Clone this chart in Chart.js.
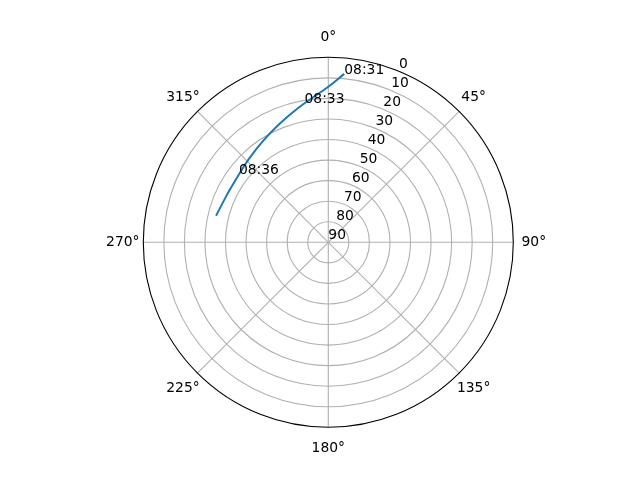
<!DOCTYPE html>
<html>
<head>
<meta charset="utf-8">
<script src="https://cdn.jsdelivr.net/npm/chart.js@4.4.1/dist/chart.umd.min.js"></script>
<style>
  html, body { margin: 0; padding: 0; background: #ffffff; }
  canvas { display: block; }
</style>
</head>
<body>
<canvas id="c" width="640" height="480"></canvas>
<script>
// Satellite track (azimuth clockwise from north, elevation in degrees)
const azimuthDeg   = [5.4, 0.0, 350.3, 344.8, 336.9, 327.1, 316.4, 307.2, 303.0, 294.2, 283.3];
const elevationDeg = [7.7, 14.3, 21.4, 24.4, 28.0, 31.4, 34.0, 35.4, 35.7, 35.5, 33.9];
// Time annotations (index into the track)
const labelIndex = [0, 2, 7];
const labelTimes = ['08:31', '08:33', '08:36'];
// Axis ticks
const thetaTicks = [0, 45, 90, 135, 180, 225, 270, 315];
const thetaTickLabels = ['0°', '45°', '90°', '135°', '180°', '225°', '270°', '315°'];
const rTicks = [0, 10, 20, 30, 40, 50, 60, 70, 80, 90];
const rTickLabels = ['0', '10', '20', '30', '40', '50', '60', '70', '80', '90'];
const rLabelAngle = 22.5;

const FONT = '13.89px "DejaVu Sans"';
const rad = d => d * Math.PI / 180;
// polar (elevation, azimuth) -> data units of the cartesian scales
function toXY(el, az) {
  const r = 90 - el;
  return { x: r * Math.sin(rad(az)), y: r * Math.cos(rad(az)) };
}
function pix(chart, el, az) {
  const p = toXY(el, az);
  return { x: chart.scales.x.getPixelForValue(p.x), y: chart.scales.y.getPixelForValue(p.y) };
}

const trackData = azimuthDeg.map((a, i) => toXY(elevationDeg[i], a));

const polarPlugin = {
  id: 'polarGrid',
  beforeDatasetsDraw(chart) {
    const ctx = chart.ctx;
    const xs = chart.scales.x, ys = chart.scales.y;
    const cx = xs.getPixelForValue(0), cy = ys.getPixelForValue(0);
    const R = xs.getPixelForValue(90) - cx;
    ctx.save();
    // circular gridlines
    ctx.strokeStyle = '#b0b0b0';
    ctx.lineWidth = 1.1;
    rTicks.forEach(t => {
      if (t === 0 || t === 90) return;
      const r = xs.getPixelForValue(90 - t) - cx;
      ctx.beginPath();
      ctx.arc(cx, cy, r, 0, Math.PI * 2);
      ctx.stroke();
    });
    // radial gridlines
    thetaTicks.forEach(a => {
      const p = pix(chart, 0, a);
      ctx.beginPath();
      ctx.moveTo(cx, cy);
      ctx.lineTo(p.x, p.y);
      ctx.stroke();
    });
    // outer spine
    ctx.strokeStyle = '#000000';
    ctx.lineWidth = 1.1;
    ctx.beginPath();
    ctx.arc(cx, cy, R, 0, Math.PI * 2);
    ctx.stroke();
    // radial tick labels
    ctx.fillStyle = '#000000';
    ctx.font = FONT;
    ctx.textAlign = 'left';
    ctx.textBaseline = 'alphabetic';
    rTicks.forEach((t, i) => {
      const p = pix(chart, t, rLabelAngle);
      ctx.fillText(rTickLabels[i], p.x, p.y - 3);
    });
    // angular tick labels
    ctx.textAlign = 'center';
    ctx.textBaseline = 'middle';
    thetaTicks.forEach((a, i) => {
      const d = R + 20.5;
      const x = cx + d * Math.sin(rad(a));
      const y = cy - d * Math.cos(rad(a));
      ctx.fillText(thetaTickLabels[i], x, y + 0.5);
    });
    ctx.restore();
  },
  afterDatasetsDraw(chart) {
    const ctx = chart.ctx;
    ctx.save();
    ctx.fillStyle = '#000000';
    ctx.font = FONT;
    ctx.textAlign = 'left';
    ctx.textBaseline = 'alphabetic';
    labelIndex.forEach((idx, i) => {
      const p = pix(chart, elevationDeg[idx], azimuthDeg[idx]);
      ctx.fillText(labelTimes[i], p.x, p.y);
    });
    ctx.restore();
  }
};

new Chart(document.getElementById('c'), {
  type: 'scatter',
  data: {
    datasets: [{
      data: trackData,
      showLine: true,
      borderColor: '#1f77b4',
      backgroundColor: '#1f77b4',
      borderWidth: 2,
      pointRadius: 0,
      tension: 0.4,
      fill: false
    }]
  },
  options: {
    responsive: false,
    animation: false,
    devicePixelRatio: 1,
    layout: { padding: { left: 143.3, right: 126.7, top: 57.3, bottom: 52.7 } },
    plugins: { legend: { display: false }, tooltip: { enabled: false } },
    scales: {
      x: { type: 'linear', min: -90, max: 90, display: false },
      y: { type: 'linear', min: -90, max: 90, display: false }
    }
  },
  plugins: [polarPlugin]
});
</script>
</body>
</html>
